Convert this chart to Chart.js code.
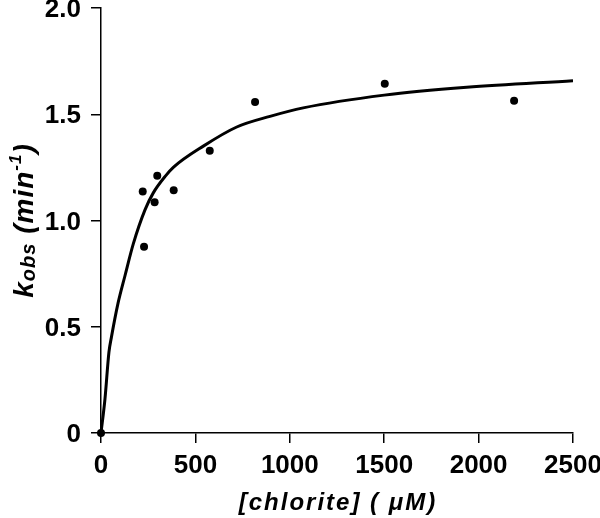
<!DOCTYPE html>
<html>
<head>
<meta charset="utf-8">
<script src="https://cdn.jsdelivr.net/npm/chart.js@4.4.1/dist/chart.umd.min.js"></script>
<style>
  html, body { margin: 0; padding: 0; background: #fff; }
  canvas { display: block; }
</style>
</head>
<body>
<canvas id="myChart" width="600" height="518"></canvas>
<script>
// measured points: [chlorite] (uM) vs kobs (min^-1)
const chloriteX = [0, 221, 228, 284, 298, 385, 576, 816, 1503, 2188];
const kobsY = [0, 1.136, 0.877, 1.086, 1.211, 1.142, 1.328, 1.558, 1.644, 1.564];

// fitted curve
const fitX = [0, 21, 42, 55, 90, 127, 171, 233, 277, 342, 383, 542, 719, 895, 1071, 1500, 1937, 2500];
const fitY = [0, 0.16, 0.38, 0.45, 0.61, 0.74, 0.89, 1.05, 1.13, 1.21, 1.25, 1.35, 1.44, 1.49, 1.53, 1.59, 1.627, 1.658];

const xTicks = [0, 500, 1000, 1500, 2000, 2500];
const yTicks = [0, 0.5, 1.0, 1.5, 2.0];

const fam = "Liberation Sans, Arial, sans-serif";
const tickFont = { family: fam, size: 26, weight: "bold" };

const axisTitles = {
    id: "axisTitles",
    afterDraw(chart) {
        const c = chart.ctx;
        const area = chart.chartArea;
        c.save();
        c.fillStyle = "#000";
        // x title
        c.font = "italic bold 24px " + fam;
        c.letterSpacing = "2px";
        c.textAlign = "center";
        c.textBaseline = "alphabetic";
        c.fillText("[chlorite] ( \u03bcM)", (area.left + area.right) / 2 + 1, 510);
        // y title, rotated, with sub and superscript
        const parts = [
            ["k", 28, 0],
            ["obs", 20, 2],
            [" (min", 28, 0],
            ["-1", 17, -12],
            [")", 28, 0]
        ];
        c.letterSpacing = "1px";
        let total = 0;
        for (const p of parts) {
            c.font = "italic bold " + p[1] + "px " + fam;
            total += c.measureText(p[0]).width;
        }
        c.translate(33, (area.top + area.bottom) / 2);
        c.rotate(-Math.PI / 2);
        c.textAlign = "left";
        let x = -total / 2;
        for (const p of parts) {
            c.font = "italic bold " + p[1] + "px " + fam;
            c.fillText(p[0], x, p[2]);
            x += c.measureText(p[0]).width;
        }
        c.restore();
    }
};

const ctx = document.getElementById("myChart").getContext("2d");
new Chart(ctx, {
    type: "scatter",
    data: {
        datasets: [{
            label: "fit",
            data: fitX.map((x, i) => ({ x: x, y: fitY[i] })),
            showLine: true,
            borderColor: "#000",
            borderWidth: 3,
            pointRadius: 0,
            cubicInterpolationMode: "monotone",
            fill: false
        }, {
            label: "kobs",
            data: chloriteX.map((x, i) => ({ x: x, y: kobsY[i] })),
            showLine: false,
            clip: false,
            pointRadius: 4,
            pointBackgroundColor: "#000",
            pointBorderColor: "#000",
            pointBorderWidth: 0
        }]
    },
    options: {
        responsive: false,
        animation: false,
        layout: { padding: { top: 8, right: 27, left: 0, bottom: 0 } },
        plugins: { legend: { display: false }, tooltip: { enabled: false } },
        scales: {
            x: {
                type: "linear",
                min: 0,
                max: 2500,
                afterBuildTicks(s) { s.ticks = xTicks.map(v => ({ value: v })); },
                afterFit(s) {
                    s.height = 85;
                    s.paddingLeft = 0; s.paddingRight = 0; s.paddingTop = 0; s.paddingBottom = 0;
                },
                grid: { drawOnChartArea: false, tickLength: 10, color: "#000", lineWidth: 1.5 },
                border: { color: "#000", width: 1.5 },
                ticks: { color: "#000", font: tickFont, padding: 7, maxRotation: 0, callback: v => String(v) }
            },
            y: {
                type: "linear",
                min: 0,
                max: 2,
                afterBuildTicks(s) { s.ticks = yTicks.map(v => ({ value: v })); },
                afterFit(s) {
                    s.width = 101;
                    s.paddingLeft = 0; s.paddingRight = 0; s.paddingTop = 0; s.paddingBottom = 0;
                },
                grid: { drawOnChartArea: false, tickLength: 10, color: "#000", lineWidth: 1.5 },
                border: { color: "#000", width: 1.5 },
                ticks: {
                    color: "#000",
                    font: tickFont,
                    padding: 10,
                    labelOffset: 2,
                    callback: v => v === 0 ? "0" : v.toFixed(1)
                }
            }
        }
    },
    plugins: [axisTitles]
});
</script>
</body>
</html>
